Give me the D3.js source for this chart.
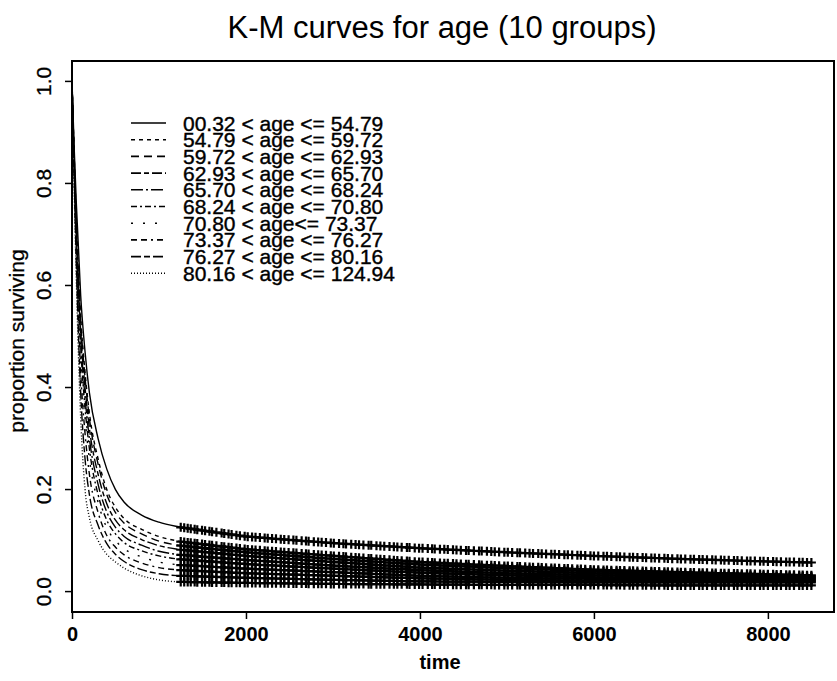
<!DOCTYPE html>
<html>
<head>
<meta charset="utf-8">
<script src="https://cdn.jsdelivr.net/npm/d3@7"></script>
<style>
  body { margin: 0; background: #fff; }
  svg text { font-family: "Liberation Sans", Arial, Helvetica, sans-serif; fill: #000; }
</style>
</head>
<body>
<div id="chart"></div>
<script>
const times = [0, 25, 50, 100, 150, 200, 300, 400, 500, 600, 800, 1000, 1250, 2000, 3000, 4000, 5000, 6000, 7000, 8000, 8500];

const groupLabels = [
  "00.32 < age <= 54.79",
  "54.79 < age <= 59.72",
  "59.72 < age <= 62.93",
  "62.93 < age <= 65.70",
  "65.70 < age <= 68.24",
  "68.24 < age <= 70.80",
  "70.80 < age<= 73.37",
  "73.37 < age <= 76.27",
  "76.27 < age <= 80.16",
  "80.16 < age <= 124.94"
];

const surv1  = [1, .87, .76, .58, .47, .39, .30, .24, .20, .175, .150, .136, .126, .108, .095, .085, .077, .070, .064, .059, .057];
const surv2  = [1, .86, .73, .54, .43, .35, .26, .20, .165, .143, .122, .108, .098, .083, .070, .058, .050, .043, .038, .034, .032];
const surv3  = [1, .85, .72, .53, .42, .34, .25, .19, .155, .134, .113, .099, .090, .077, .064, .053, .046, .040, .035, .031, .030];
const surv4  = [1, .85, .71, .51, .40, .32, .23, .172, .140, .121, .102, .090, .082, .070, .058, .047, .041, .036, .032, .029, .028];
const surv5  = [1, .84, .70, .50, .38, .30, .21, .156, .126, .108, .091, .079, .072, .062, .051, .042, .036, .032, .029, .027, .026];
const surv6  = [1, .84, .69, .48, .36, .28, .19, .140, .113, .096, .080, .070, .063, .054, .045, .037, .032, .028, .026, .025, .024];
const surv7  = [1, .83, .67, .46, .34, .26, .175, .125, .100, .084, .068, .058, .052, .045, .038, .031, .027, .025, .023, .022, .022];
const surv8  = [1, .82, .66, .43, .31, .23, .155, .110, .087, .072, .056, .047, .042, .036, .031, .026, .023, .021, .020, .020, .020];
const surv9  = [1, .81, .64, .39, .26, .19, .13, .094, .073, .059, .043, .035, .031, .027, .023, .020, .019, .018, .018, .018, .018];
const surv10 = [1, .79, .61, .34, .20, .145, .10, .073, .058, .046, .031, .023, .019, .017, .015, .014, .013, .013, .012, .012, .012];

const survival = [surv1, surv2, surv3, surv4, surv5, surv6, surv7, surv8, surv9, surv10];

// censoring times (the "+" marks)
const censorTimes = [1250, 1290, 1330, 1365, 1410, 1440, 1495, 1530, 1580, 1610, 1660, 1720, 1750, 1800, 1835,
  1890, 1930, 1985, 2020, 2070, 2110, 2160, 2215, 2250, 2300, 2345, 2400, 2440, 2490, 2545, 2580, 2640, 2690,
  2720, 2780, 2830, 2870, 2920, 2975, 3010, 3070, 3120, 3150, 3210, 3260, 3300, 3350, 3410, 3440, 3500, 3545,
  3590, 3650, 3700, 3740, 3790, 3850, 3880, 3940, 3990, 4030, 4090, 4140, 4170, 4230, 4280, 4320, 4380, 4420,
  4470, 4530, 4560, 4620, 4680, 4710, 4770, 4820, 4860, 4910, 4970, 5010, 5060, 5120, 5150, 5210, 5260, 5300,
  5360, 5400, 5450, 5510, 5550, 5600, 5660, 5700, 5750, 5810, 5850, 5900, 5960, 6000, 6050, 6110, 6150, 6200,
  6260, 6300, 6350, 6410, 6450, 6500, 6560, 6600, 6660, 6700, 6750, 6810, 6850, 6900, 6960, 7000, 7050, 7110,
  7150, 7210, 7250, 7300, 7360, 7400, 7460, 7500, 7550, 7610, 7650, 7700, 7760, 7800, 7850, 7910, 7950, 8000,
  8060, 8100, 8150, 8210, 8250, 8300, 8360, 8400, 8450, 8500];

const xTicks = [0, 2000, 4000, 6000, 8000];
const yTicks = [0, 0.2, 0.4, 0.6, 0.8, 1.0];

const dashes = ["none", "4,4", "8,5", "10,3,5,3", "12,3,2,3", "6,3,2,3", "2,10", "6,4,6,4,2,4", "10,3,6,3", "1,2"];

const width = 837, height = 681;
const box = { left: 72, right: 834, top: 61, bottom: 612 };

const svg = d3.select("#chart").append("svg")
    .attr("width", width)
    .attr("height", height);

const x = d3.scaleLinear().domain([0, 8760]).range([box.left, box.right]);
const y = d3.scaleLinear().domain([-0.04, 1.04]).range([box.bottom, box.top]);

// title
svg.append("text")
    .attr("x", 442).attr("y", 38)
    .attr("text-anchor", "middle")
    .style("font-size", "31px")
    .text("K-M curves for age (10 groups)");

// frame
svg.append("rect")
    .attr("x", box.left).attr("y", box.top)
    .attr("width", box.right - box.left).attr("height", box.bottom - box.top)
    .attr("fill", "none").attr("stroke", "#000").attr("stroke-width", 2);

// x axis
const xAxis = svg.append("g")
    .attr("transform", `translate(0,${box.bottom})`)
    .call(d3.axisBottom(x).tickValues(xTicks).tickFormat(d3.format("d")).tickSize(7).tickPadding(8));
xAxis.select(".domain").remove();
xAxis.selectAll("line").attr("stroke-width", 1.5);
xAxis.selectAll("text")
    .style("font-size", "20px").style("font-weight", "bold")
    .style("font-family", "'Liberation Sans', Arial, sans-serif");

// y axis
const yAxis = svg.append("g")
    .attr("transform", `translate(${box.left},0)`)
    .call(d3.axisLeft(y).tickValues(yTicks).tickFormat(d3.format(".1f")).tickSize(7));
yAxis.select(".domain").remove();
yAxis.selectAll(".tick").attr("transform", null);
yAxis.selectAll(".tick line")
    .attr("stroke-width", 1.5)
    .attr("transform", d => `translate(0,${y(d)})`);
yAxis.selectAll(".tick text")
    .attr("x", null).attr("y", 0).attr("dy", "0.35em")
    .attr("text-anchor", "middle")
    .attr("transform", d => `translate(-28,${y(d)}) rotate(-90)`)
    .style("font-size", "21px")
    .style("stroke", "#000").style("stroke-width", 0.3)
    .style("font-family", "'Liberation Sans', Arial, sans-serif");

// axis titles
svg.append("text")
    .attr("x", 440).attr("y", 669)
    .attr("text-anchor", "middle")
    .style("font-size", "20px").style("font-weight", "bold")
    .text("time");

svg.append("text")
    .attr("transform", `translate(24,${341}) rotate(-90)`)
    .attr("text-anchor", "middle")
    .style("font-size", "21px")
    .style("stroke", "#000").style("stroke-width", 0.3)
    .text("proportion surviving");

// curves
const line = d3.line()
    .x(d => x(d.t))
    .y(d => y(d.s))
    .curve(d3.curveMonotoneX);

const plot = svg.append("g");

survival.forEach(function(vals, i) {
    const pts = times.map(function(t, j) { return { t: t, s: vals[j] }; });
    plot.append("path")
        .datum(pts)
        .attr("d", line)
        .attr("fill", "none")
        .attr("stroke", "#000")
        .attr("stroke-width", 1.4)
        .attr("stroke-dasharray", dashes[i]);

    const onCurve = d3.scaleLinear().domain(times).range(vals);
    plot.append("g")
        .selectAll("path")
        .data(censorTimes)
        .enter()
        .append("path")
        .attr("d", function(t) {
            const cx = x(t), cy = y(onCurve(t));
            return `M${cx - 4.5},${cy}H${cx + 4.5}M${cx},${cy - 4.5}V${cy + 4.5}`;
        })
        .attr("stroke", "#000")
        .attr("stroke-width", 2.2);
});

// legend
const legend = svg.append("g");
groupLabels.forEach(function(label, i) {
    const ly = 123 + i * 16.7;
    legend.append("line")
        .attr("x1", 131).attr("x2", 166)
        .attr("y1", ly).attr("y2", ly)
        .attr("stroke", "#000").attr("stroke-width", 1.6)
        .attr("stroke-dasharray", dashes[i]);
    legend.append("text")
        .attr("x", 183).attr("y", ly)
        .attr("dy", "0.36em")
        .style("font-size", "21px")
        .style("stroke", "#000").style("stroke-width", 0.4)
        .text(label);
});
</script>
</body>
</html>
